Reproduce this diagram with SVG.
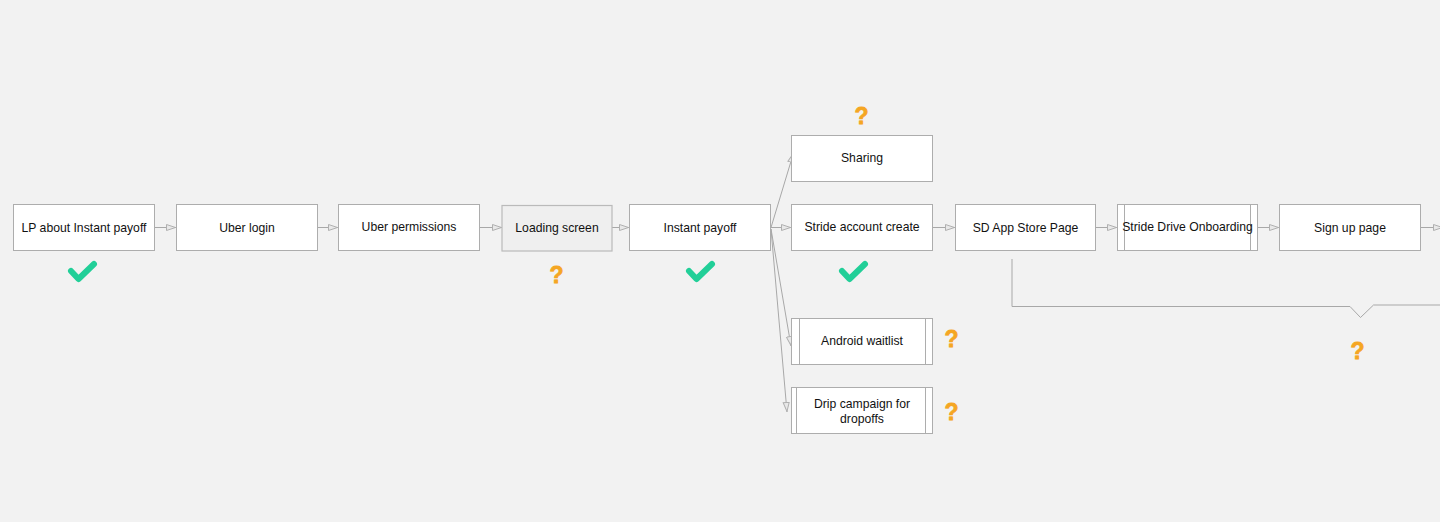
<svg xmlns="http://www.w3.org/2000/svg" width="1440" height="522" viewBox="0 0 1440 522">
<defs>
<style>
.box{fill:#ffffff;stroke:#adadad;stroke-width:1}
.grey{fill:#efefef;stroke:#bababa;stroke-width:1.2}
.inner{stroke:#adadad;stroke-width:1;fill:none}
.lbl{font-family:"Liberation Sans",Arial,sans-serif;font-size:12.2px;fill:#111111;text-anchor:middle}
.conn{stroke:#a8a8a8;stroke-width:1;fill:none}
.chk{stroke:#22cf98;stroke-width:6;fill:none;stroke-linecap:round;stroke-linejoin:round}
.q{font-family:"Liberation Sans",Arial,sans-serif;font-size:23px;font-weight:bold;fill:#f5a623;stroke:#f5a623;stroke-width:0.8;text-anchor:middle}
</style>
<marker id="arr" viewBox="0 0 10 8" refX="10" refY="4" markerWidth="10" markerHeight="8" markerUnits="userSpaceOnUse" orient="auto">
<path d="M0.5,1 L9.5,4 L0.5,7 Z" fill="#e8e8e8" stroke="#b0b0b0" stroke-width="1"/>
</marker>
</defs>
<rect width="1440" height="522" fill="#f2f2f2"/>

<g id="connectors">
<line class="conn" x1="154.5" y1="227.5" x2="176" y2="227.5" marker-end="url(#arr)"/>
<line class="conn" x1="317.5" y1="227.5" x2="338" y2="227.5" marker-end="url(#arr)"/>
<line class="conn" x1="479.5" y1="227.5" x2="502" y2="227.5" marker-end="url(#arr)"/>
<line class="conn" x1="612" y1="227.5" x2="629" y2="227.5" marker-end="url(#arr)"/>
<line class="conn" x1="771" y1="227.5" x2="791" y2="227.5" marker-end="url(#arr)"/>
<line class="conn" x1="771" y1="227.5" x2="793.5" y2="153" marker-end="url(#arr)"/>
<line class="conn" x1="771" y1="229" x2="791" y2="346" marker-end="url(#arr)"/>
<line class="conn" x1="771" y1="229" x2="787" y2="412" marker-end="url(#arr)"/>
<line class="conn" x1="932.5" y1="227.5" x2="955" y2="227.5" marker-end="url(#arr)"/>
<line class="conn" x1="1096" y1="227.5" x2="1117" y2="227.5" marker-end="url(#arr)"/>
<line class="conn" x1="1258" y1="227.5" x2="1279" y2="227.5" marker-end="url(#arr)"/>
<line class="conn" x1="1421" y1="227.5" x2="1443" y2="227.5" marker-end="url(#arr)"/>
<path class="conn" d="M1012,259 L1012,306.5 L1350,306.5 L1360.5,317.5 L1373.5,305 L1440,305"/>
</g>

<g id="n-lp"><rect class="box" x="13.5" y="204.5" width="141" height="46"/><text class="lbl" x="84" y="231.5">LP about Instant payoff</text></g>
<g id="n-uberlogin"><rect class="box" x="176.5" y="204.5" width="141" height="46"/><text class="lbl" x="247" y="231.5">Uber login</text></g>
<g id="n-uberperm"><rect class="box" x="338.5" y="204.5" width="141" height="46"/><text class="lbl" x="409" y="231">Uber permissions</text></g>
<g id="n-loading"><rect class="grey" x="502" y="205.5" width="110" height="45.5"/><text class="lbl" x="557" y="232">Loading screen</text></g>
<g id="n-instant"><rect class="box" x="629.5" y="204.5" width="141" height="46"/><text class="lbl" x="700" y="231.5">Instant payoff</text></g>
<g id="n-sharing"><rect class="box" x="791.5" y="135.5" width="141" height="46"/><text class="lbl" x="862" y="162">Sharing</text></g>
<g id="n-stridecreate"><rect class="box" x="791.5" y="204.5" width="141" height="46"/><text class="lbl" x="862" y="231">Stride account create</text></g>
<g id="n-android"><rect class="box" x="791.5" y="318.5" width="141" height="46"/><line class="inner" x1="799.5" y1="318.5" x2="799.5" y2="364.5"/><line class="inner" x1="925.5" y1="318.5" x2="925.5" y2="364.5"/><text class="lbl" x="862" y="345">Android waitlist</text></g>
<g id="n-drip"><rect class="box" x="791.5" y="387.5" width="141" height="46"/><line class="inner" x1="796.5" y1="387.5" x2="796.5" y2="433.5"/><line class="inner" x1="925.5" y1="387.5" x2="925.5" y2="433.5"/><text class="lbl" x="862" y="408">Drip campaign for</text><text class="lbl" x="862" y="422.5">dropoffs</text></g>
<g id="n-sdstore"><rect class="box" x="955.5" y="204.5" width="140" height="46"/><text class="lbl" x="1025.5" y="231.5">SD App Store Page</text></g>
<g id="n-sdonboard"><rect class="box" x="1117.5" y="204.5" width="140" height="46"/><line class="inner" x1="1124.5" y1="204.5" x2="1124.5" y2="250.5"/><line class="inner" x1="1250.5" y1="204.5" x2="1250.5" y2="250.5"/><text class="lbl" x="1187.5" y="231">Stride Drive Onboarding</text></g>
<g id="n-signup"><rect class="box" x="1279.5" y="204.5" width="141" height="46"/><text class="lbl" x="1350" y="231.5">Sign up page</text></g>

<g id="marks">
<path class="chk" d="M71,271 L78.5,279 L94,264"/>
<path class="chk" d="M689,271 L696.5,279 L712,264"/>
<path class="chk" d="M842,271 L849.5,279 L865,264"/>
<text class="q" x="861.5" y="124">?</text>
<text class="q" x="556.5" y="283">?</text>
<text class="q" x="951.5" y="347">?</text>
<text class="q" x="951.5" y="420">?</text>
<text class="q" x="1357.5" y="359">?</text>
</g>
</svg>
